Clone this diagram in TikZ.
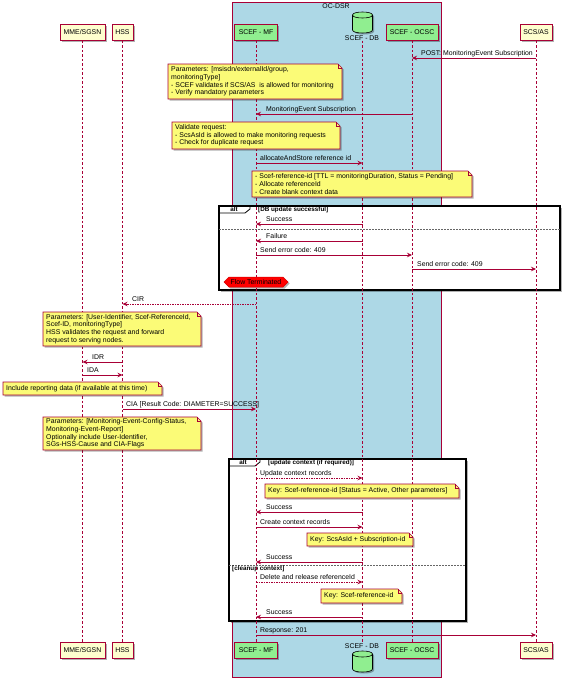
\documentclass[tikz,border=0pt]{standalone}
\usepackage{fontspec}
\setmainfont{Liberation Sans}
\usetikzlibrary{shapes.geometric,shapes.symbols,shadows,arrows.meta}
\definecolor{pred}{HTML}{A80036}
\definecolor{pfill}{HTML}{FEFECE}
\definecolor{nfill}{HTML}{FBFB77}
\definecolor{bluebox}{HTML}{ADD8E6}
\definecolor{pgreen}{HTML}{90EE90}
\newcommand{\dfs}{\fontsize{6.9}{7.7}\selectfont}
\newcommand{\dfsb}{\fontsize{6.3}{7}\selectfont\bfseries}
\tikzset{
  shad/.style={drop shadow={shadow xshift=1.5pt,shadow yshift=-1.5pt,opacity=0.3,fill=black}},
  part/.style={draw=pred, fill=pfill, line width=0.7pt, minimum height=16pt, inner sep=1pt, shad},
  gpart/.style={part, fill=pgreen},
  cylbody/.style={draw=black, fill=pgreen, line width=0.6pt, shad},
  life/.style={draw=pred, line width=0.6pt, dash pattern=on 2.5pt off 2pt},
  msg/.style={draw=pred, line width=0.7pt, -{Stealth[length=5pt,width=4.5pt]}},
  dmsg/.style={msg, dash pattern=on 1.5pt off 1pt},
  lbl/.style={anchor=base west, inner sep=0pt},
  notebox/.style={draw=pred, fill=nfill, line width=0.6pt, shad},
  notetext/.style={anchor=west, align=left, inner sep=0pt},
  frame/.style={draw=black, line width=1.2pt, fill=white, shad},
  sepline/.style={draw=black!60, line width=0.4pt, dash pattern=on 1.5pt off 1.5pt},
  hdr/.style={font=\dfsb, anchor=west, inner sep=0pt},
  term/.style={signal, signal to=west and east, fill=red, draw=red!85!black, line width=0.5pt, inner sep=1pt, minimum width=64pt, minimum height=10pt, shad}
}
\newcommand{\pnote}[6]{%
  \draw[notebox] (#2,#3) -- (#4-4,#3) -- (#4,#3+4) -- (#4,#5) -- (#2,#5) -- cycle;
  \draw[draw=pred, line width=0.5pt] (#4-4,#3) -- (#4-4,#3+4) -- (#4,#3+4);
  \node[notetext] (#1) at (#2+3,{(#3+#5)/2}) {#6};}
% cylinder: center x, top ellipse y, bottom y
\newcommand{\dbcyl}[3]{%
  \draw[cylbody] (#1-10,#2) -- (#1-10,#3) .. controls (#1-10,#3+4) and (#1+10,#3+4) .. (#1+10,#3)
     -- (#1+10,#2) .. controls (#1+10,#2-4) and (#1-10,#2-4) .. (#1-10,#2) -- cycle;
  \draw[draw=black, line width=0.6pt] (#1-10,#2) .. controls (#1-10,#2+4) and (#1+10,#2+4) .. (#1+10,#2);}
\begin{document}
\begin{tikzpicture}[x=1pt,y=-1pt,font=\dfs]
\useasboundingbox (0,0) rectangle (566,680);
% box OC-DSR
\fill[bluebox] (232,2) rectangle (441,677);
\draw[pred, line width=0.7pt] (232,2) rectangle (441,677);
\node[inner sep=0pt] (title) at (336,6) {OC-DSR};
% alt frame 1
\draw[frame] (219,206) rectangle (560,290);
\draw[line width=0.8pt] (219,213) -- (245,213) -- (250,209) -- (250,206);
\node[font=\dfsb, inner sep=0pt] (alt1) at (234,209.5) {alt};
\node[hdr] (h1) at (258,210) {[DB update successful]};
\draw[sepline] (219,229) -- (560,229);
% alt frame 2
\draw[frame] (229,459) rectangle (466,621);
\draw[line width=0.8pt] (229,466) -- (255,466) -- (260,462) -- (260,459);
\node[font=\dfsb, inner sep=0pt] (alt2) at (243,462.5) {alt};
\node[hdr] (h2) at (268,463) {[update context (if required)]};
\draw[sepline] (229,565) -- (466,565);
\node[hdr] (h3) at (232,569) {[cleanup context]};
% participants top
\node[part, minimum width=45pt] (mme) at (82.5,32.5) {MME/SGSN};
\node[part, minimum width=21pt] (hss) at (122.5,32.5) {HSS};
\node[gpart, minimum width=43pt] (mf) at (256,32.5) {SCEF - MF};
\dbcyl{362.5}{15}{30}
\coordinate (dbT) at (362.5,22.5);
\node[inner sep=0pt] (dbTl) at (362,38) {SCEF - DB};
\node[gpart, minimum width=52pt] (ocsc) at (412,32.5) {SCEF - OCSC};
\node[part, minimum width=32pt] (scs) at (536,32.5) {SCS/AS};
% participants bottom
\node[part, minimum width=45pt] (mmeB) at (82.5,650.5) {MME/SGSN};
\node[part, minimum width=21pt] (hssB) at (122.5,650.5) {HSS};
\node[gpart, minimum width=43pt] (mfB) at (256,650.5) {SCEF - MF};
\node[inner sep=0pt] (dbBl) at (362,646) {SCEF - DB};
\dbcyl{362.5}{654}{669}
\coordinate (dbB) at (362.5,662);
\node[gpart, minimum width=52pt] (ocscB) at (412,650.5) {SCEF - OCSC};
\node[part, minimum width=32pt] (scsB) at (536,650.5) {SCS/AS};
% lifelines
\draw[life] (mme.south) -- (mmeB.north);
\draw[life] (hss.south) -- (hssB.north);
\draw[life] (mf.south) -- (mfB.north);
\draw[life] (dbTl.south) -- (dbBl.north);
\draw[life] (ocsc.south) -- (ocscB.north);
\draw[life] (scs.south) -- (scsB.north);
% messages
\draw[msg] (scs |- 0,58) -- (ocsc |- 0,58);
\node[lbl] (m1) at (421,55) {POST: MonitoringEvent Subscription};
\pnote{n1}{168}{64}{342}{99}{Parameters: [msisdn/externalId/group,\\monitoringType]\\- SCEF validates if SCS/AS~ is allowed for monitoring\\- Verify mandatory parameters}
\draw[msg] (ocsc |- 0,114) -- (mf |- 0,114);
\node[lbl] (m2) at (266,111) {MonitoringEvent Subscription};
\pnote{n2}{172}{122}{340}{149}{Validate request:\\- ScsAsId is allowed to make monitoring requests\\- Check for duplicate request}
\draw[msg] (mf |- 0,163) -- (dbT |- 0,163);
\node[lbl] (m3) at (260,160) {allocateAndStore reference id};
\pnote{n3}{252}{171}{472}{197}{- Scef-reference-id [TTL = monitoringDuration, Status = Pending]\\- Allocate referenceId\\- Create blank context data}
\draw[msg] (dbT |- 0,224) -- (mf |- 0,224);
\node[lbl] (m4) at (266,221) {Success};
\draw[msg] (dbT |- 0,241) -- (mf |- 0,241);
\node[lbl] (m5) at (266,238) {Failure};
\draw[msg] (mf |- 0,255) -- (ocsc |- 0,255);
\node[lbl] (m6) at (260,252) {Send error code: 409};
\draw[msg] (ocsc |- 0,269) -- (scs |- 0,269);
\node[lbl] (m7) at (417,266) {Send error code: 409};
\node[term] (ft) at (256,282) {Flow Terminated};
\draw[dmsg] (mf |- 0,304) -- (hss |- 0,304);
\node[lbl] (m8) at (132,301) {CIR};
\pnote{n4}{43}{312}{201}{346}{Parameters: [User-Identifier, Scef-ReferenceId,\\Scef-ID, monitoringType]\\HSS validates the request and forward\\request to serving nodes.}
\draw[msg] (hss |- 0,362) -- (mme |- 0,362);
\node[lbl] (m9) at (92,359) {IDR};
\draw[msg] (mme |- 0,375) -- (hss |- 0,375);
\node[lbl] (m10) at (87,372) {IDA};
\pnote{n5}{3}{382}{162}{395}{Include reporting data (if available at this time)}
\draw[msg] (hss |- 0,409) -- (mf |- 0,409);
\node[lbl] (m11) at (126,406) {CIA [Result Code: DIAMETER=SUCCESS]};
\pnote{n6}{43}{417}{201}{450}{Parameters: [Monitoring-Event-Config-Status,\\Monitoring-Event-Report]\\Optionally include User-Identifier,\\SGs-HSS-Cause and CIA-Flags}
\draw[dmsg] (mf |- 0,478) -- (dbT |- 0,478);
\node[lbl] (m12) at (260,475) {Update context records};
\pnote{n7}{265}{484}{459}{498}{Key: Scef-reference-id [Status = Active, Other parameters]}
\draw[msg] (dbT |- 0,512) -- (mf |- 0,512);
\node[lbl] (m13) at (266,509) {Success};
\draw[msg] (mf |- 0,527) -- (dbT |- 0,527);
\node[lbl] (m14) at (260,524) {Create context records};
\pnote{n8}{307}{533}{413}{546}{Key: ScsAsId + Subscription-id}
\draw[msg] (dbT |- 0,562) -- (mf |- 0,562);
\node[lbl] (m15) at (266,559) {Success};
\draw[dmsg] (mf |- 0,582) -- (dbT |- 0,582);
\node[lbl] (m16) at (260,579) {Delete and release referenceId};
\pnote{n9}{321}{589}{402}{603}{Key: Scef-reference-id}
\draw[msg] (dbT |- 0,617) -- (mf |- 0,617);
\node[lbl] (m17) at (266,614) {Success};
\draw[msg] (mf |- 0,635) -- (scs |- 0,635);
\node[lbl] (m18) at (260,632) {Response: 201};
\end{tikzpicture}
\end{document}
